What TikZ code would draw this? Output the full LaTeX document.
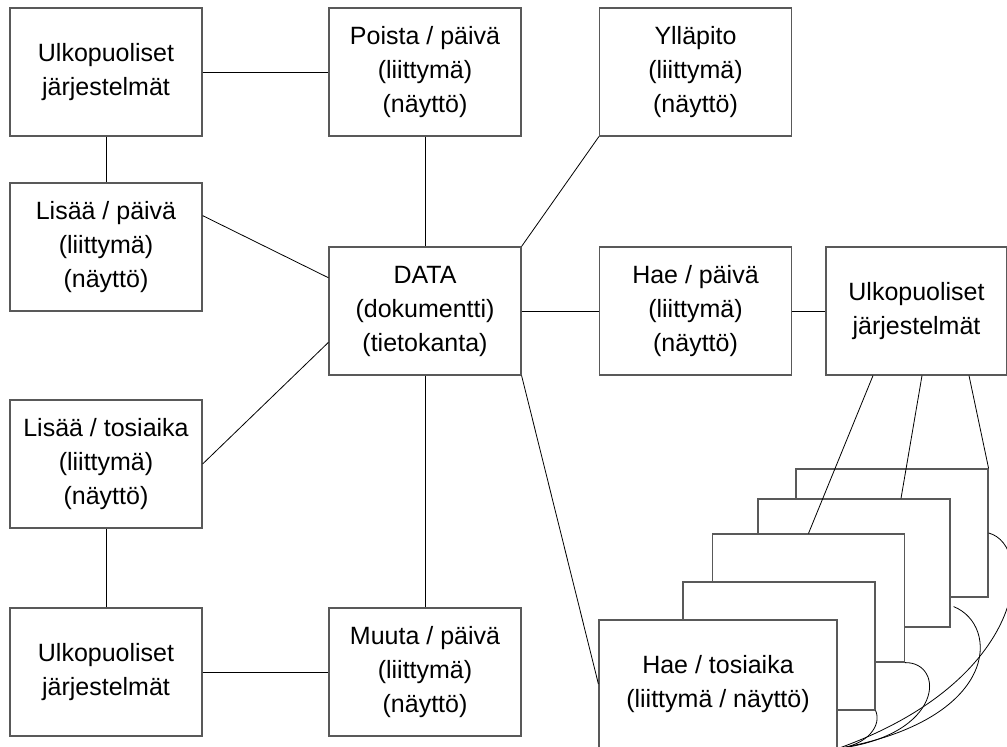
\documentclass[tikz,border=0pt]{standalone}
\usepackage{fontspec}
\setmainfont{Liberation Sans}
\tikzset{
    box/.style={draw=black!65, line width=1.2pt, fill=white, minimum width=192pt,
        minimum height=128pt, inner sep=0pt, align=center,
        font=\fontsize{25}{34}\selectfont},
    link/.style={draw=black, line width=0.8pt}
}
\begin{document}
\begin{tikzpicture}[x=1pt,y=-1pt]
        \clip (0,0) rectangle (1007,747);
        \node[box] (ulkA) at (106,72) {Ulkopuoliset\\järjestelmät};
        \node[box] (poista) at (425,72) {Poista / päivä\\(liittymä)\\(näyttö)};
        \node[box] (yllapito) at (695.5,72) {Ylläpito\\(liittymä)\\(näyttö)};
        \node[box] (lisaaP) at (106,247) {Lisää / päivä\\(liittymä)\\(näyttö)};
        \node[box] (data) at (425,311) {DATA\\(dokumentti)\\(tietokanta)};
        \node[box] (haeP) at (695.5,311) {Hae / päivä\\(liittymä)\\(näyttö)};
        \node[box, minimum width=181pt] (ulkB) at (916.5,311) {Ulkopuoliset\\järjestelmät};
        \node[box] (lisaaT) at (106,464) {Lisää / tosiaika\\(liittymä)\\(näyttö)};
        \node[box] (ulkC) at (106,672) {Ulkopuoliset\\järjestelmät};
        \node[box] (muuta) at (425,672) {Muuta / päivä\\(liittymä)\\(näyttö)};
        \node[box] (hae5) at (892,533) {};
        \node[box] (hae4) at (854,563) {};
        \node[box] (hae3) at (808.5,598) {};
        \node[box] (hae2) at (779,646) {};
        \node[box, minimum width=238pt] (hae1) at (718,684) {Hae / tosiaika\\(liittymä / näyttö)};
        \draw[link] (ulkA.east) -- (poista.west);
        \draw[link] (ulkA.south) -- (lisaaP.north);
        \draw[link] (poista.south) -- (data.north);
        \draw[link] (lisaaP.18.4) -- (data.161.6);
        \draw[link] (data.north east) -- (yllapito.south west);
        \draw[link] (data.east) -- (haeP.west);
        \draw[link] (haeP.east) -- (ulkB.west);
        \draw[link] (data.198.4) -- (lisaaT.east);
        \draw[link] (data.south) -- (muuta.north);
        \draw[link] (data.south east) -- (hae1.west);
        \draw[link] (lisaaT.south) -- (ulkC.north);
        \draw[link] (ulkC.east) -- (muuta.west);
        \draw[link] ([xshift=-43.5pt]ulkB.south) -- (hae3.north);
        \draw[link] ([xshift=5.5pt]ulkB.south) -- ([xshift=47pt]hae4.north);
        \draw[link] ([xshift=52.5pt]ulkB.south) -- (hae5.north east);
        \draw[link] (hae5.east) .. controls (1035,545) and (1030,680) .. (hae1.south east);
        \draw[link] ([shift={(3pt,21pt)}]hae4.south east) .. controls (1000,625) and (1000,720) .. (hae1.south east);
        \draw[link] (hae3.south east) .. controls (945,662) and (945,735) .. (hae1.south east);
        \draw[link] (hae2.south east) .. controls (882,725) and (868,745) .. (hae1.south east);
    \end{tikzpicture}
\end{document}
